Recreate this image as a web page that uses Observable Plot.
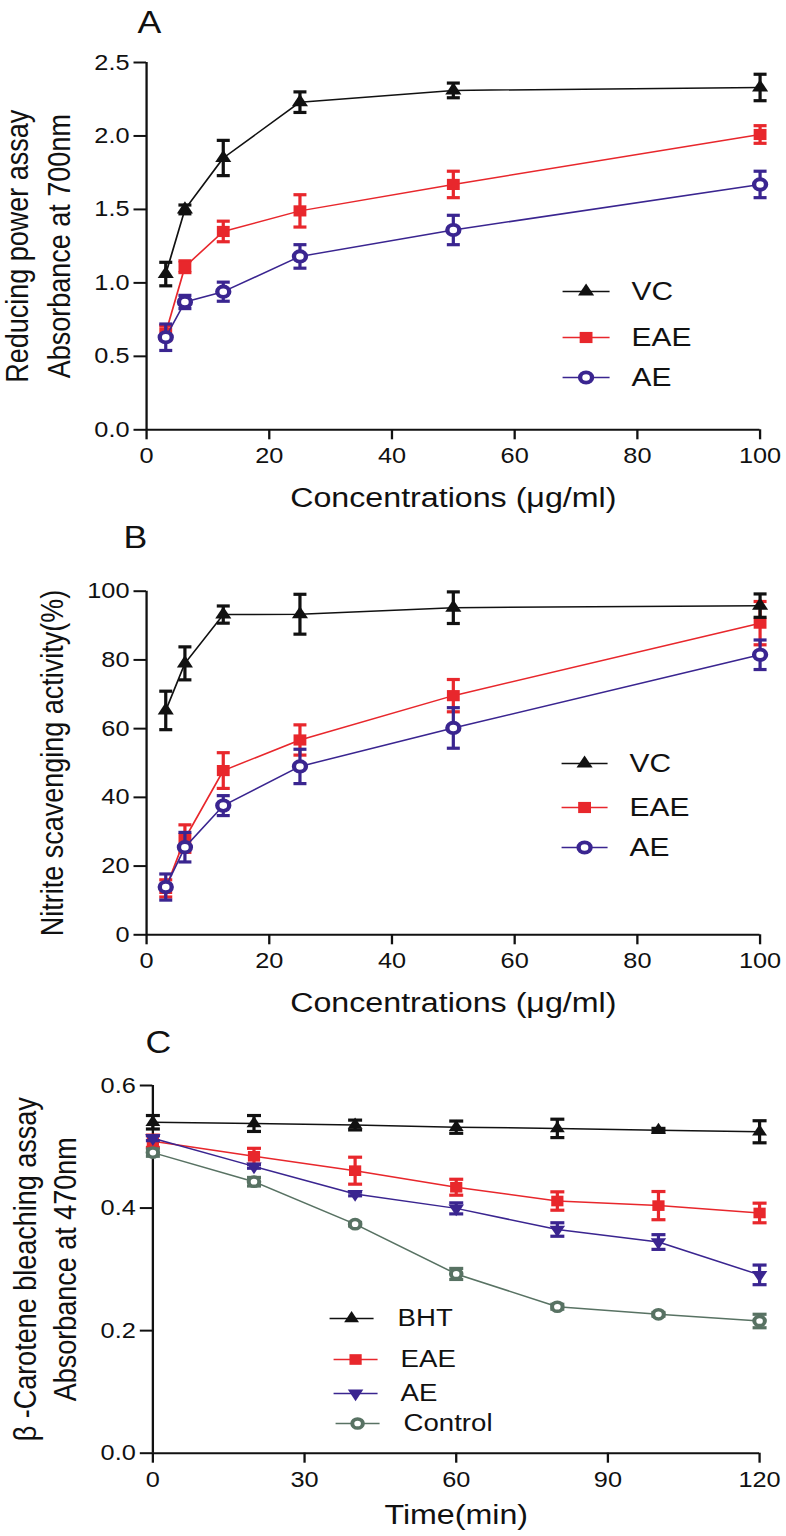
<!DOCTYPE html>
<html><head><meta charset="utf-8">
<script src="https://cdn.jsdelivr.net/npm/d3@7"></script>
<script src="https://cdn.jsdelivr.net/npm/@observablehq/plot@0.6"></script>
<style>
body{margin:0;background:#fff;}
#chart{width:786px;overflow:hidden;background:#fff;}
#chart svg{display:block;}
</style></head><body><div id="chart"></div>
<script>
// ---------- data ----------
const concentrations = [3.125, 6.25, 12.5, 25, 50, 100];
const concTicks = [0, 20, 40, 60, 80, 100];

// Panel A: reducing power (absorbance at 700 nm)
const reducingVC = [1.06, 1.50, 1.85, 2.23, 2.31, 2.33];
const reducingVCsd = [0.08, 0.03, 0.12, 0.07, 0.05, 0.09];
const reducingEAE = [0.66, 1.11, 1.35, 1.49, 1.67, 2.01];
const reducingEAEsd = [0.05, 0.04, 0.07, 0.11, 0.09, 0.06];
const reducingAE = [0.63, 0.87, 0.94, 1.18, 1.36, 1.67];
const reducingAEsd = [0.09, 0.045, 0.065, 0.08, 0.10, 0.09];
const reducingTicks = [0, 0.5, 1.0, 1.5, 2.0, 2.5];

// Panel B: nitrite scavenging activity (%)
const nitriteVC = [65.3, 79.0, 93.2, 93.3, 95.2, 95.8];
const nitriteVCsd = [5.6, 4.8, 2.5, 5.8, 4.6, 3.4];
const nitriteEAE = [13.5, 28.0, 47.8, 56.7, 69.6, 90.7];
const nitriteEAEsd = [2.5, 4.0, 5.2, 4.4, 4.7, 6.3];
const nitriteAE = [13.9, 25.5, 37.6, 49.0, 60.2, 81.5];
const nitriteAEsd = [3.8, 4.3, 2.9, 5.0, 5.9, 4.3];
const nitriteTicks = [0, 20, 40, 60, 80, 100];

// Panel C: beta-carotene bleaching (absorbance at 470 nm)
const timeMin = [0, 20, 40, 60, 80, 100, 120];
const timeTicks = [0, 30, 60, 90, 120];
const bleachBHT = [0.540, 0.538, 0.5355, 0.532, 0.530, 0.527, 0.5245];
const bleachBHTsd = [0.011, 0.013, 0.008, 0.010, 0.015, 0.003, 0.018];
const bleachEAE = [0.509, 0.4845, 0.461, 0.434, 0.4115, 0.404, 0.392];
const bleachEAEsd = [0.010, 0.013, 0.022, 0.013, 0.015, 0.023, 0.016];
const bleachAE = [0.514, 0.468, 0.423, 0.3995, 0.365, 0.3446, 0.291];
const bleachAEsd = [0.004, 0.003, 0.003, 0.009, 0.011, 0.012, 0.016];
const bleachControl = [0.4905, 0.443, 0.3737, 0.2925, 0.239, 0.2266, 0.2157];
const bleachControlsd = [0.006, 0.007, 0.003, 0.009, 0.004, 0.003, 0.011];
const bleachTicks = [0, 0.2, 0.4, 0.6];

// ---------- styling ----------
const SX = 1.15;              // the figure is slightly wider than tall in its lettering
const W = 786 / SX;
const X = px => px / SX;
const FONT = '"Liberation Sans", Arial, Helvetica, sans-serif';
const BLACK = "#111111", RED = "#e8272c", BLUE = "#3a2590", GREEN = "#587263";

const hline = h => ({draw(ctx) { ctx.moveTo(-h, 0); ctx.lineTo(h, 0); }});
const downTriangle = {draw(ctx, size) {
  const y = -Math.sqrt(size / (Math.sqrt(3) * 3)), s3 = Math.sqrt(3);
  ctx.moveTo(0, -2 * y); ctx.lineTo(-s3 * y, y); ctx.lineTo(s3 * y, y); ctx.closePath();
}};

const rows = (xs, ys, es) => xs.map((x, i) => ({x, y: ys[i], e: es[i]}));

function panel(cfg) {
  const mt = cfg.frameT - cfg.top, mb = cfg.top + cfg.height - cfg.frameB;
  const ml = X(cfg.frameL), mr = X(786 - cfg.frameR);
  const marks = [];
  // axes lines
  marks.push(Plot.ruleY([cfg.yDomain[0]], {stroke: BLACK, strokeWidth: 2}));
  marks.push(Plot.ruleX([cfg.xDomain[0]], {stroke: BLACK, strokeWidth: 2}));
  // series
  for (const s of cfg.series) {
    const d = rows(s.x, s.y, s.e);
    marks.push(Plot.line(d, {x: "x", y: "y", stroke: s.color, strokeWidth: 1.5}));
    marks.push(Plot.ruleX(d, {x: "x", y1: r => r.y - r.e, y2: r => r.y + r.e, stroke: s.color, strokeWidth: 2.8}));
    marks.push(Plot.dot(d, {x: "x", y: r => r.y - r.e, symbol: hline(X(cfg.capHalf)), stroke: s.color, strokeWidth: 3.2}));
    marks.push(Plot.dot(d, {x: "x", y: r => r.y + r.e, symbol: hline(X(cfg.capHalf)), stroke: s.color, strokeWidth: 3.2}));
    marks.push(Plot.dot(d, {x: "x", y: "y", symbol: s.symbol, r: s.r,
      fill: s.ring ? "white" : s.color, stroke: s.ring ? s.color : "none", strokeWidth: s.ring ? s.ringWidth : 0}));
  }
  // legend
  const L = cfg.legend;
  cfg.series.forEach((s, i) => {
    const dy = L.rows[i] - cfg.frameT;
    const cx = X((L.x1[i] + L.x2[i]) / 2) - ml;
    marks.push(Plot.dot([s.name], {frameAnchor: "top-left", dx: cx, dy, symbol: hline(X((L.x2[i] - L.x1[i]) / 2)), stroke: s.color, strokeWidth: 1.5, fill: "none"}));
    marks.push(Plot.dot([s.name], {frameAnchor: "top-left", dx: cx, dy, symbol: s.symbol, r: s.r,
      fill: s.ring ? "white" : s.color, stroke: s.ring ? s.color : "none", strokeWidth: s.ring ? s.ringWidth : 0}));
    marks.push(Plot.text([s.name], {frameAnchor: "top-left", text: t => t, dx: X(L.labelX[i]) - ml, dy,
      textAnchor: "start", lineAnchor: "middle", fontSize: L.fontSize, fill: BLACK}));
  });
  // panel letter
  marks.push(Plot.text([cfg.letter], {frameAnchor: "top-left", text: t => t, dx: X(cfg.letterX) - ml, dy: cfg.letterY - cfg.frameT,
    textAnchor: "start", lineAnchor: "top", fontSize: 31, fill: BLACK}));
  // y titles (rotated)
  cfg.yTitles.forEach((t, i) => {
    marks.push(Plot.text([t], {frameAnchor: "left", text: d => d, rotate: -90, dx: X(cfg.yTitleX[i]) - ml,
      lineAnchor: "top", textAnchor: "middle", fontSize: 27, fill: BLACK}));
  });
  // x title
  marks.push(Plot.text([cfg.xTitle], {frameAnchor: "bottom", text: d => d, dy: cfg.xTitleTop - cfg.frameB,
    lineAnchor: "top", fontSize: 28, fill: BLACK}));
  // axes
  marks.push(Plot.axisX({ticks: cfg.xTicks, tickSize: 10, tickPadding: 8, fontSize: 22, label: null, strokeWidth: 2, stroke: BLACK, fill: BLACK}));
  marks.push(Plot.axisY({ticks: cfg.yTicks, tickSize: X(12.5), tickPadding: 4, fontSize: 22, label: null, strokeWidth: 2,
    tickFormat: cfg.yFormat, stroke: BLACK, fill: BLACK}));

  const svg = Plot.plot({
    width: W, height: cfg.height,
    marginTop: mt, marginBottom: mb, marginLeft: ml, marginRight: mr,
    x: {domain: cfg.xDomain},
    y: {domain: cfg.yDomain},
    style: {fontFamily: FONT, color: BLACK, background: "white"},
    marks
  });
  svg.setAttribute("width", 786);
  svg.setAttribute("height", cfg.height);
  svg.setAttribute("preserveAspectRatio", "none");
  svg.style.width = "786px";
  svg.style.height = cfg.height + "px";
  svg.style.maxWidth = "none";
  svg.style.overflow = "visible";
  return svg;
}

const chart = document.getElementById("chart");

chart.append(panel({
  top: 0, height: 520, frameL: 146, frameR: 759.5, frameT: 62, frameB: 429.3,
  xDomain: [0, 100], yDomain: [0, 2.5], xTicks: concTicks, yTicks: reducingTicks, yFormat: d3.format(".1f"),
  capHalf: 6.5,
  series: [
    {name: "EAE", x: concentrations, y: reducingEAE, e: reducingEAEsd, color: RED, symbol: "square", r: 6.3},
    {name: "AE", x: concentrations, y: reducingAE, e: reducingAEsd, color: BLUE, symbol: "circle", r: 5.2, ring: true, ringWidth: 3.8},
    {name: "VC", x: concentrations, y: reducingVC, e: reducingVCsd, color: BLACK, symbol: "triangle", r: 5.2}
  ],
  legend: {x1: [562, 562, 562], x2: [609, 609, 609], labelX: [631, 631, 631], rows: [337, 377, 291], fontSize: 26},
  letter: "A", letterX: 137, letterY: 10,
  yTitles: ["Reducing power assay", "Absorbance at 700nm"], yTitleX: [5, 47],
  xTitle: "Concentrations (μg/ml)", xTitleTop: 487
}));

chart.append(panel({
  top: 520, height: 498, frameL: 146, frameR: 759.5, frameT: 590.7, frameB: 934.3,
  xDomain: [0, 100], yDomain: [0, 100], xTicks: concTicks, yTicks: nitriteTicks, yFormat: d3.format("d"),
  capHalf: 6.5,
  series: [
    {name: "EAE", x: concentrations, y: nitriteEAE, e: nitriteEAEsd, color: RED, symbol: "square", r: 6.3},
    {name: "AE", x: concentrations, y: nitriteAE, e: nitriteAEsd, color: BLUE, symbol: "circle", r: 5.2, ring: true, ringWidth: 3.8},
    {name: "VC", x: concentrations, y: nitriteVC, e: nitriteVCsd, color: BLACK, symbol: "triangle", r: 5.2}
  ],
  legend: {x1: [561, 561, 561], x2: [607, 607, 607], labelX: [629, 629, 629], rows: [807, 847, 763], fontSize: 26},
  letter: "B", letterX: 123, letterY: 525,
  yTitles: ["Nitrite scavenging activity(%)"], yTitleX: [40],
  xTitle: "Concentrations (μg/ml)", xTitleTop: 992
}));

chart.append(panel({
  top: 1018, height: 518, frameL: 152.3, frameR: 759, frameT: 1085, frameB: 1452.7,
  xDomain: [0, 120], yDomain: [0, 0.6], xTicks: timeTicks, yTicks: bleachTicks, yFormat: d3.format(".1f"),
  capHalf: 7,
  series: [
    {name: "BHT", x: timeMin, y: bleachBHT, e: bleachBHTsd, color: BLACK, symbol: "triangle", r: 4.8},
    {name: "EAE", x: timeMin, y: bleachEAE, e: bleachEAEsd, color: RED, symbol: "square", r: 6},
    {name: "AE", x: timeMin, y: bleachAE, e: bleachAEsd, color: BLUE, symbol: downTriangle, r: 5},
    {name: "Control", x: timeMin, y: bleachControl, e: bleachControlsd, color: GREEN, symbol: "circle", r: 4.6, ring: true, ringWidth: 3.5}
  ],
  legend: {x1: [329, 333, 333, 335], x2: [373, 377, 377, 379], labelX: [397, 400, 400, 403], rows: [1318, 1359, 1393, 1423], fontSize: 24},
  letter: "C", letterX: 145, letterY: 1030,
  yTitles: ["β -Carotene bleaching assay", "Absorbance at 470nm"], yTitleX: [13, 53],
  xTitle: "Time(min)", xTitleTop: 1504
}));
</script></body></html>
